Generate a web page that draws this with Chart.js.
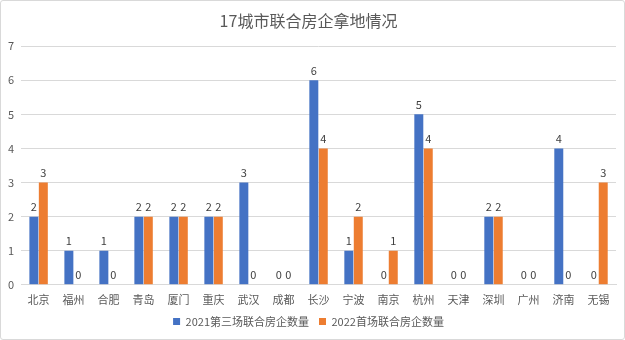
<!DOCTYPE html>
<html>
<head>
<meta charset="utf-8">
<script src="https://cdn.jsdelivr.net/npm/chart.js@4/dist/chart.umd.min.js"></script>
<style>
  html, body { margin: 0; padding: 0; background: #fff; }
  #wrap { position: absolute; left: 0; top: 0; width: 623px; height: 338px; border: 1px solid #d9d9d9; border-radius: 3px; }
  canvas { display: block; }
</style>
</head>
<body>
<div id="wrap"><canvas id="c" width="623" height="338"></canvas></div>
<script>
// 城市
const cities = ['北京','福州','合肥','青岛','厦门','重庆','武汉','成都','长沙','宁波','南京','杭州','天津','深圳','广州','济南','无锡'];
// 2021第三场联合房企数量
const round2021 = [2,1,1,2,2,2,3,0,6,1,0,5,0,2,0,4,0];
// 2022首场联合房企数量
const round2022 = [3,0,0,2,2,2,0,0,4,2,1,4,0,2,0,0,3];
const seriesNames = ['2021第三场联合房企数量','2022首场联合房企数量'];
const yTicks = [0,1,2,3,4,5,6,7];

const FONT = '"Noto Sans CJK SC", "Noto Sans", sans-serif';

// 柱顶数值标签
const valueLabels = {
  id: 'valueLabels',
  afterDatasetsDraw(chart) {
    const ctx = chart.ctx;
    ctx.save();
    ctx.font = '11px ' + FONT;
    ctx.fillStyle = '#404040';
    ctx.textAlign = 'center';
    ctx.textBaseline = 'bottom';
    chart.data.datasets.forEach((ds, i) => {
      const meta = chart.getDatasetMeta(i);
      meta.data.forEach((bar, j) => {
        ctx.fillText(String(ds.data[j]), bar.x, bar.y - 4);
      });
    });
    ctx.restore();
  }
};

new Chart(document.getElementById('c'), {
  type: 'bar',
  data: {
    labels: cities,
    datasets: [
      { label: seriesNames[0], data: round2021, backgroundColor: '#4472C4' },
      { label: seriesNames[1], data: round2022, backgroundColor: '#ED7D31' }
    ]
  },
  options: {
    responsive: false,
    animation: false,
    devicePixelRatio: 1,
    layout: { padding: { left: 0, right: 8, top: 4, bottom: 2 } },
    datasets: { bar: { categoryPercentage: 0.54, barPercentage: 0.95 } },
    plugins: {
      title: {
        display: true,
        text: '17城市联合房企拿地情况',
        color: '#595959',
        font: { family: FONT, size: 16, weight: 'normal' },
        padding: { top: 6, bottom: 16 }
      },
      legend: {
        position: 'bottom',
        labels: {
          color: '#595959',
          font: { family: FONT, size: 11 },
          usePointStyle: true,
          pointStyle: 'rect',
          boxWidth: 7,
          boxHeight: 7,
          padding: 10
        }
      },
      tooltip: { enabled: false }
    },
    scales: {
      x: {
        grid: { display: false },
        border: { display: true, color: '#d9d9d9' },
        ticks: { color: '#595959', font: { family: FONT, size: 11 }, maxRotation: 0, autoSkip: false, padding: 0 }
      },
      y: {
        min: 0,
        max: 7,
        afterBuildTicks(axis) { axis.ticks = yTicks.map(v => ({ value: v })); },
        grid: { color: '#d9d9d9', drawTicks: false },
        border: { display: false },
        ticks: { color: '#595959', font: { family: FONT, size: 11 }, padding: 7 }
      }
    }
  },
  plugins: [valueLabels]
});
</script>
</body>
</html>
